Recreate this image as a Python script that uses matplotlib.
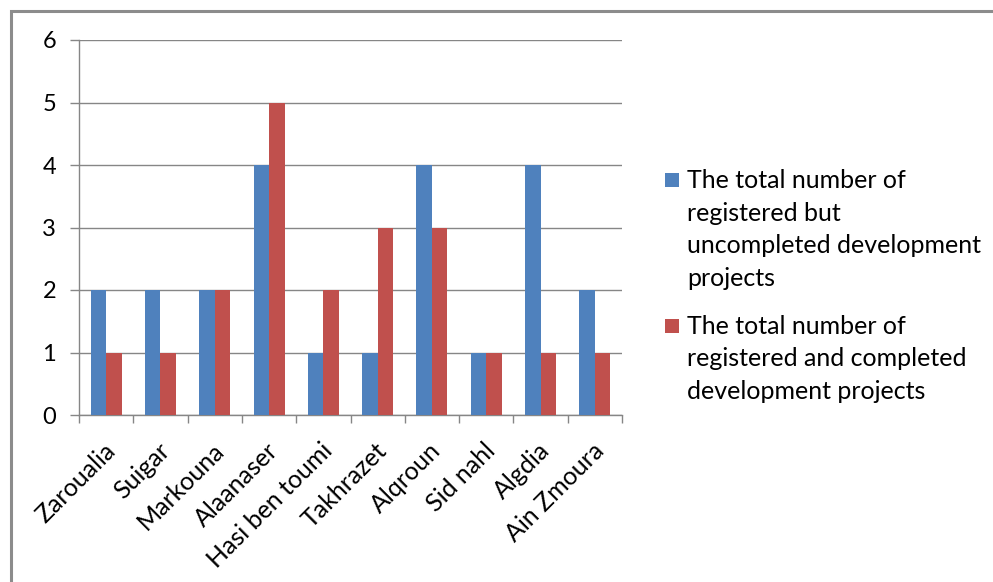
import matplotlib
matplotlib.use("Agg")
import matplotlib.pyplot as plt
from matplotlib.patches import Rectangle
import numpy as np

plt.rcParams['font.family'] = ['Lato', 'DejaVu Sans']

municipalities = ["Zaroualia", "Suigar", "Markouna", "Alaanaser", "Hasi ben toumi",
                  "Takhrazet", "Alqroun", "Sid nahl", "Algdia", "Ain Zmoura"]
uncompleted = [2, 2, 2, 4, 1, 1, 4, 1, 4, 2]
completed = [1, 1, 2, 5, 2, 3, 3, 1, 1, 1]
series_labels = [
    "The total number of\nregistered but\nuncompleted development\nprojects",
    "The total number of\nregistered and completed\ndevelopment projects",
]
caption = "Figure (4): Development projects registered"

BLUE = "#4F81BD"
RED = "#C0504D"
GRID = "#868686"

W, H = 993, 582
fig = plt.figure(figsize=(W / 100, H / 100), dpi=100)

# outer frame around the chart object
fig.patches.append(Rectangle((10.5 / W, -0.1), 1.2, 1 - 10.5 / H + 0.1,
                             transform=fig.transFigure, fill=False,
                             edgecolor="#8c8c8c", linewidth=2.2))

# caption line sitting above the frame (only its lower edge falls on the page)
fig.text(2 / W, 1 + 9 / H, caption, family="Liberation Serif", fontweight="bold",
         fontsize=26, va="baseline", ha="left", color="black")

ax = fig.add_axes([79 / W, 1 - 415 / H, (622 - 79) / W, (415 - 40) / H])

x = np.arange(len(municipalities))
w = 1 / 3.5
colors = [BLUE, RED]
ax.bar(x - w / 2, uncompleted, width=w, color=BLUE, zorder=3)
ax.bar(x + w / 2, completed, width=w, color=RED, zorder=3)

ax.set_xlim(-0.5, len(municipalities) - 0.5)
ax.set_ylim(0, 6)
ax.set_yticks(range(7))
ax.yaxis.grid(True, color=GRID, linewidth=1.0, zorder=0)
ax.set_axisbelow(True)

for side in ("top", "right"):
    ax.spines[side].set_visible(False)
for side in ("left", "bottom"):
    ax.spines[side].set_color(GRID)
    ax.spines[side].set_linewidth(1.0)

ax.tick_params(axis="y", length=6.5, width=1.0, color=GRID, pad=10, labelsize=17)

# category labels, slanted, ending just below each group's centre
ax.set_xticks(x)
ax.set_xticklabels([])
ax.tick_params(axis="x", which="major", length=0)
for i, name in enumerate(municipalities):
    ax.annotate(name, xy=(i, 0), xycoords=("data", "axes fraction"),
                xytext=(-2, -17), textcoords="offset points",
                rotation=45, ha="right", va="top", rotation_mode="anchor",
                fontsize=18, annotation_clip=False)
ax.set_xticks(np.arange(-0.5, len(municipalities)), minor=True)
ax.tick_params(axis="x", which="minor", length=6, width=1.0, color=GRID)

# legend: a colour square beside the first line of each wrapped label
legend_tops = [169, 315]
for label, color, top in zip(series_labels, colors, legend_tops):
    fig.patches.append(Rectangle((665 / W, 1 - 187 / H - (top - legend_tops[0]) / H),
                                 14 / W, 14 / H,
                                 transform=fig.transFigure, facecolor=color,
                                 edgecolor="none"))
    fig.text(687 / W, 1 - top / H, label, fontsize=18, va="top", ha="left",
             linespacing=1.5)

fig.savefig("out.png", dpi=100)
